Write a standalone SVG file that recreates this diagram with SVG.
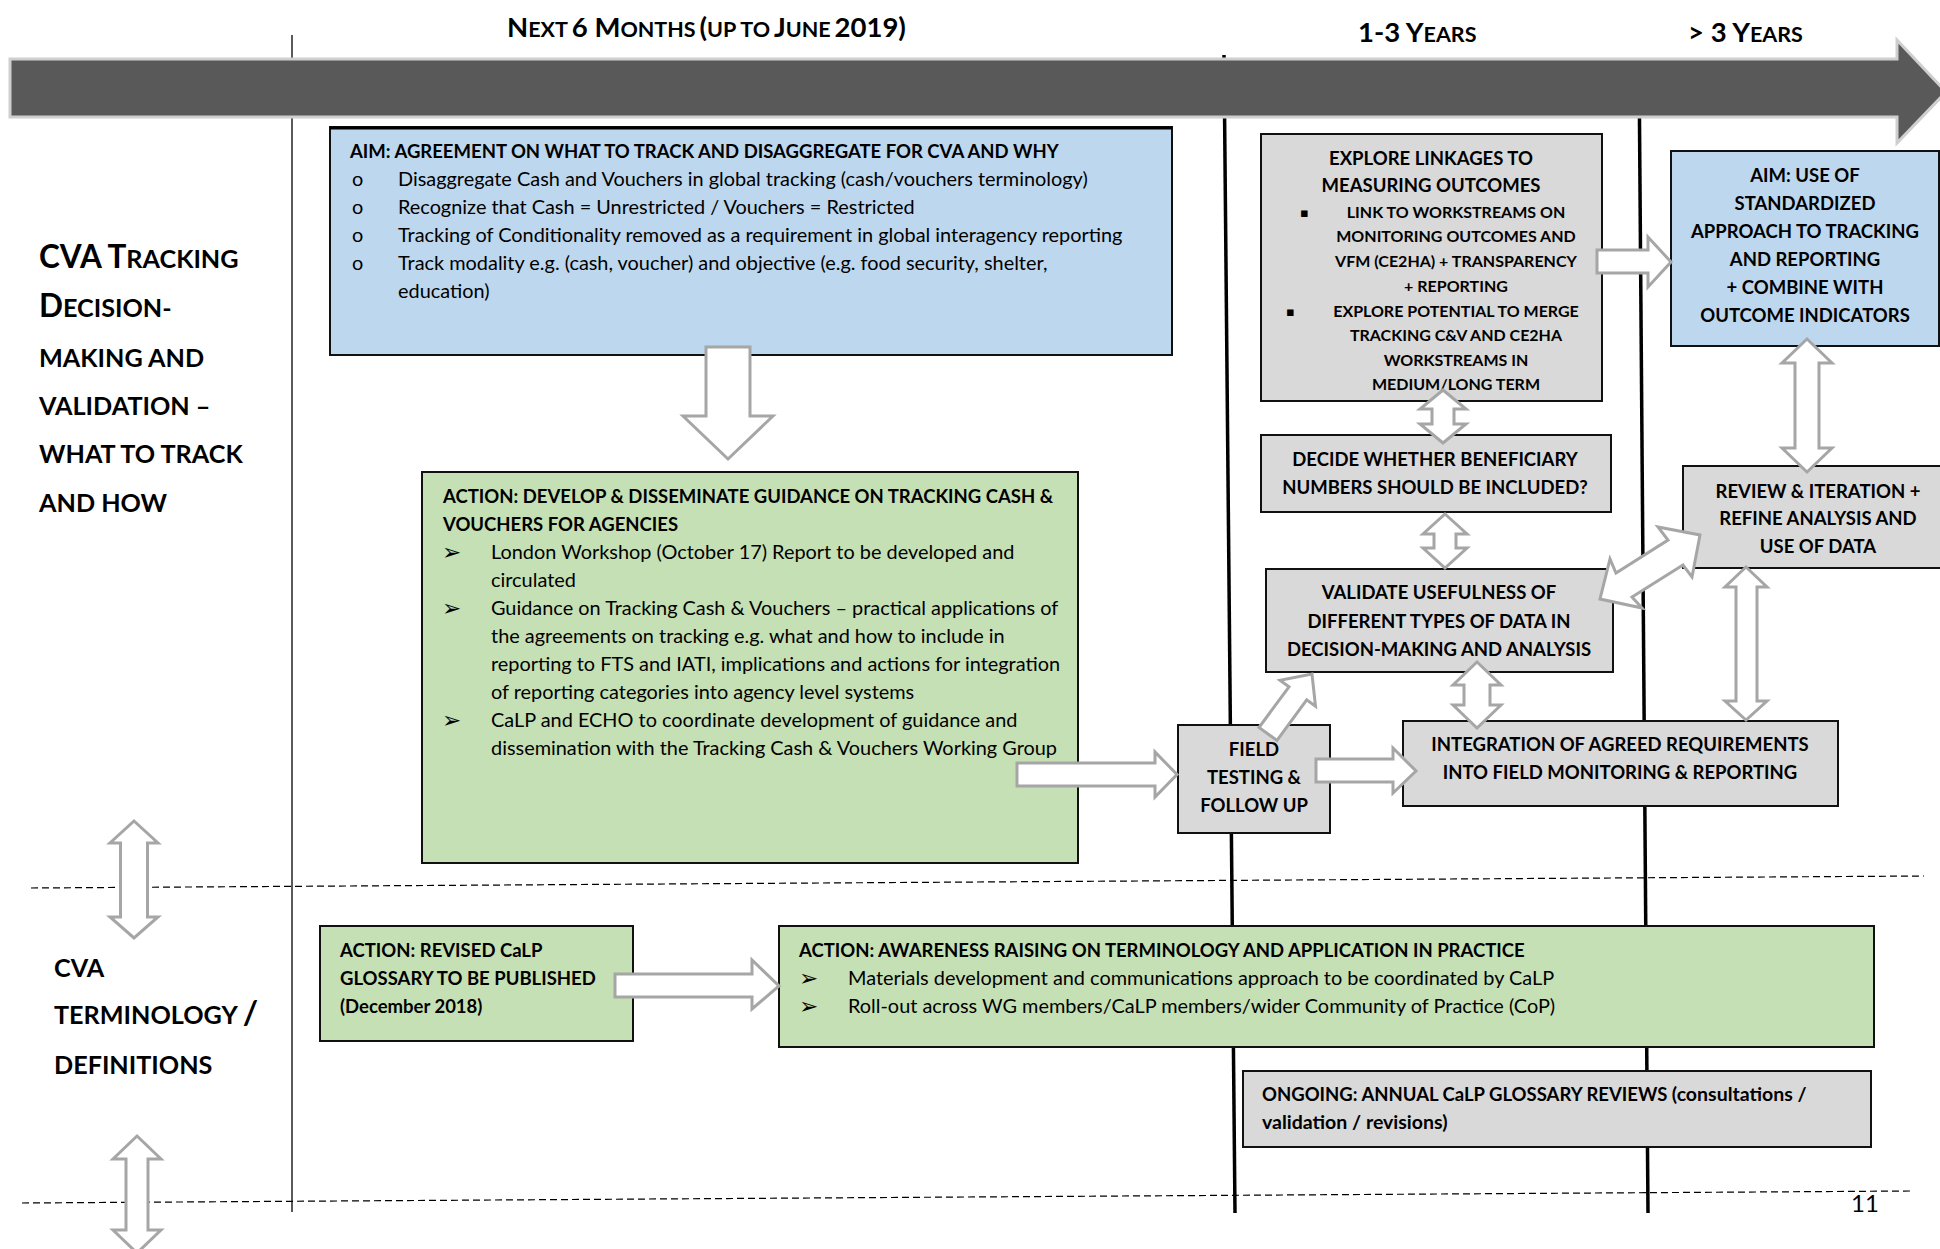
<svg xmlns="http://www.w3.org/2000/svg" width="1940" height="1249" viewBox="0 0 1940 1249">
<style>
text { font-family: Lato, "Liberation Sans", sans-serif; fill: #000; }
.b { font-weight: 700; }
.r { font-weight: 400; }
.t { font-size: 18.5px; }
.tr { font-size: 19.9px; font-weight: 400; }
.ts { font-size: 16px; }
.c { text-anchor: middle; }
.blue { fill: #bdd7ee; stroke: #111; stroke-width: 2; }
.green { fill: #c5e0b4; stroke: #111; stroke-width: 2; }
.gray { fill: #d9d9d9; stroke: #111; stroke-width: 2; }
.blk { fill: #fff; stroke: #a6a6a6; stroke-width: 3; stroke-linejoin: miter; }
.dash { stroke: #000; stroke-width: 1.2; stroke-dasharray: 7 4; fill: none; }
.vline { stroke: #000; stroke-width: 3.5; fill: none; }
.hb { font-size: 27.5px; }
.hs { font-size: 21.5px; }
.lb { font-size: 31.5px; }
.ls { font-size: 25.2px; }
.arr { font-family: "DejaVu Sans", sans-serif; font-size: 23px; }
.sq { font-family: "DejaVu Sans", sans-serif; font-size: 13px; }
</style>

<g id="guides">
  <line class="dash" x1="31" y1="888" x2="1924" y2="876"/>
  <line class="dash" x1="22" y1="1203" x2="1912" y2="1191"/>
  <line x1="292" y1="35" x2="292" y2="1212" stroke="#000" stroke-width="1.3"/>
  <line class="vline" x1="1224" y1="55" x2="1235" y2="1213"/>
  <line class="vline" x1="1639" y1="58" x2="1648" y2="1213"/>
</g>

<g id="timeline">
  <polygon points="10,59 1897,59 1897,40 1946,92 1897,143 1897,117 10,117" fill="#595959" stroke="#cfcfcf" stroke-width="3"/>
  <text class="b" x="507" y="37"><tspan class="hb">N</tspan><tspan class="hs">EXT</tspan> <tspan class="hb">6 M</tspan><tspan class="hs">ONTHS</tspan> <tspan class="hb">(</tspan><tspan class="hs">UP TO</tspan> <tspan class="hb">J</tspan><tspan class="hs">UNE</tspan> <tspan class="hb">2019)</tspan></text>
  <text class="b" x="1358" y="42"><tspan class="hb">1-3 Y</tspan><tspan class="hs">EARS</tspan></text>
  <text class="b" x="1688" y="42"><tspan class="hb">&gt; 3 Y</tspan><tspan class="hs">EARS</tspan></text>
</g>

<g id="label-tracking">
  <text class="b" x="39" y="268"><tspan class="lb">CVA T</tspan><tspan class="ls">RACKING</tspan></text>
  <text class="b" x="39" y="317"><tspan class="lb">D</tspan><tspan class="ls">ECISION-</tspan></text>
  <text class="b ls" x="39" y="367">MAKING AND</text>
  <text class="b ls" x="39" y="415">VALIDATION –</text>
  <text class="b ls" x="39" y="463">WHAT TO TRACK</text>
  <text class="b ls" x="39" y="512">AND HOW</text>
</g>

<g id="label-terminology">
  <text class="b ls" x="54" y="977">CVA</text>
  <text class="b ls" x="54" y="1024">TERMINOLOGY <tspan font-size="33px">/</tspan></text>
  <text class="b ls" x="54" y="1074">DEFINITIONS</text>
</g>

<g id="aim-agreement">
  <rect class="blue" x="330" y="127" width="842" height="228"/>
  <line x1="330" y1="128" x2="1172" y2="128" stroke="#000" stroke-width="3"/>
  <text class="b t" x="350" y="158" font-size="18.7px">AIM: AGREEMENT ON WHAT TO TRACK AND DISAGGREGATE FOR CVA AND WHY</text>
  <g class="tr">
    <text x="352" y="186">o</text>
    <text x="352" y="214">o</text>
    <text x="352" y="242">o</text>
    <text x="352" y="270">o</text>
    <text x="398" y="186">Disaggregate Cash and Vouchers in global tracking (cash/vouchers terminology)</text>
    <text x="398" y="214">Recognize that Cash = Unrestricted / Vouchers = Restricted</text>
    <text x="398" y="242">Tracking of Conditionality removed as a requirement in global interagency reporting</text>
    <text x="398" y="270">Track modality e.g. (cash, voucher) and objective (e.g. food security, shelter,</text>
    <text x="398" y="298">education)</text>
  </g>
</g>

<g id="action-guidance">
  <rect class="green" x="422" y="472" width="656" height="391"/>
  <text class="b t" x="443" y="503">ACTION: DEVELOP &amp; DISSEMINATE GUIDANCE ON TRACKING CASH &amp;</text>
  <text class="b t" x="443" y="531">VOUCHERS FOR AGENCIES</text>
  <text class="arr" x="442" y="560">➢</text>
  <text class="arr" x="442" y="616">➢</text>
  <text class="arr" x="442" y="728">➢</text>
  <g class="tr">
    <text x="491" y="559">London Workshop (October 17) Report to be developed and</text>
    <text x="491" y="587">circulated</text>
    <text x="491" y="615">Guidance on Tracking Cash &amp; Vouchers – practical applications of</text>
    <text x="491" y="643">the agreements on tracking e.g. what and how to include in</text>
    <text x="491" y="671">reporting to FTS and IATI, implications and actions for integration</text>
    <text x="491" y="699">of reporting categories into agency level systems</text>
    <text x="491" y="727">CaLP and ECHO to coordinate development of guidance and</text>
    <text x="491" y="755">dissemination with the Tracking Cash &amp; Vouchers Working Group</text>
  </g>
</g>

<g id="explore-linkages">
  <rect class="gray" x="1261" y="134" width="341" height="267"/>
  <text class="b t c" x="1431" y="165">EXPLORE LINKAGES TO</text>
  <text class="b t c" x="1431" y="192">MEASURING OUTCOMES</text>
  <text class="sq" x="1300" y="217">▪</text>
  <text class="sq" x="1286" y="316">▪</text>
  <g class="b ts c">
    <text x="1456" y="218">LINK TO WORKSTREAMS ON</text>
    <text x="1456" y="242">MONITORING OUTCOMES AND</text>
    <text x="1456" y="267">VFM (CE2HA) + TRANSPARENCY</text>
    <text x="1456" y="292">+ REPORTING</text>
    <text x="1456" y="317">EXPLORE POTENTIAL TO MERGE</text>
    <text x="1456" y="341">TRACKING C&amp;V AND CE2HA</text>
    <text x="1456" y="366">WORKSTREAMS IN</text>
    <text x="1456" y="390">MEDIUM/LONG TERM</text>
  </g>
</g>

<g id="aim-standardized">
  <rect class="blue" x="1671" y="151" width="268" height="195"/>
  <g class="b t c">
    <text x="1805" y="182">AIM: USE OF</text>
    <text x="1805" y="210">STANDARDIZED</text>
    <text x="1805" y="238">APPROACH TO TRACKING</text>
    <text x="1805" y="266">AND REPORTING</text>
    <text x="1805" y="294">+ COMBINE WITH</text>
    <text x="1805" y="322">OUTCOME INDICATORS</text>
  </g>
</g>

<g id="decide-beneficiary">
  <rect class="gray" x="1261" y="435" width="350" height="77"/>
  <text class="b t c" x="1435" y="466">DECIDE WHETHER BENEFICIARY</text>
  <text class="b t c" x="1435" y="494">NUMBERS SHOULD BE INCLUDED?</text>
</g>

<g id="validate-usefulness">
  <rect class="gray" x="1266" y="569" width="347" height="103"/>
  <text class="b t c" x="1439" y="599">VALIDATE USEFULNESS OF</text>
  <text class="b t c" x="1439" y="628">DIFFERENT TYPES OF DATA IN</text>
  <text class="b t c" x="1439" y="656">DECISION-MAKING AND ANALYSIS</text>
</g>

<g id="review-iteration">
  <rect class="gray" x="1683" y="466" width="262" height="102"/>
  <text class="b t c" x="1818" y="498">REVIEW &amp; ITERATION +</text>
  <text class="b t c" x="1818" y="525">REFINE ANALYSIS AND</text>
  <text class="b t c" x="1818" y="553">USE OF DATA</text>
</g>

<g id="field-testing">
  <rect class="gray" x="1178" y="725" width="152" height="108"/>
  <text class="b t c" x="1254" y="756">FIELD</text>
  <text class="b t c" x="1254" y="784">TESTING &amp;</text>
  <text class="b t c" x="1254" y="812">FOLLOW UP</text>
</g>

<g id="integration">
  <rect class="gray" x="1403" y="721" width="435" height="85"/>
  <text class="b t c" x="1620" y="751">INTEGRATION OF AGREED REQUIREMENTS</text>
  <text class="b t c" x="1620" y="779">INTO FIELD MONITORING &amp; REPORTING</text>
</g>

<g id="revised-glossary">
  <rect class="green" x="320" y="926" width="313" height="115"/>
  <text class="b t" x="340" y="957">ACTION: REVISED CaLP</text>
  <text class="b t" x="340" y="985">GLOSSARY TO BE PUBLISHED</text>
  <text class="b t" x="340" y="1013" font-size="19.5px">(December 2018)</text>
</g>

<g id="awareness-raising">
  <rect class="green" x="779" y="926" width="1095" height="121"/>
  <text class="b t" x="799" y="957">ACTION: AWARENESS RAISING ON TERMINOLOGY AND APPLICATION IN PRACTICE</text>
  <text class="arr" x="799" y="986">➢</text>
  <text class="arr" x="799" y="1014">➢</text>
  <text class="tr" x="848" y="985">Materials development and communications approach to be coordinated by CaLP</text>
  <text class="tr" x="848" y="1013">Roll-out across WG members/CaLP members/wider Community of Practice (CoP)</text>
</g>

<g id="ongoing-reviews">
  <rect class="gray" x="1243" y="1071" width="628" height="76"/>
  <text class="b t" x="1262" y="1101">ONGOING: ANNUAL CaLP GLOSSARY REVIEWS <tspan font-size="19.5px">(consultations /</tspan></text>
  <text class="b" x="1262" y="1129" font-size="19.5px">validation / revisions)</text>
</g>

<g id="connectors">
  <polygon class="blk" points="706,347 750,347 750,416 773,416 728,459 683,416 706,416"/>
  <polygon class="blk" points="1597,250 1648,250 1648,237 1671,262 1648,287 1648,273 1597,273"/>
  <polygon class="blk" points="1443,390 1466,409 1454,409 1454,424 1466,424 1443,443 1420,424 1432,424 1432,409 1420,409"/>
  <polygon class="blk" points="1445,514 1467,534 1456,534 1456,548 1467,548 1445,568 1423,548 1434,548 1434,534 1423,534"/>
  <polygon class="blk" points="1477,662 1501,685 1490,685 1490,705 1501,705 1477,728 1453,705 1464,705 1464,685 1453,685"/>
  <polygon class="blk" points="1807,339 1832,363 1819,363 1819,448 1832,448 1807,472 1782,448 1795,448 1795,363 1782,363"/>
  <polygon class="blk" points="1746,567 1767,587 1757,587 1757,701 1767,701 1746,720 1725,701 1736,701 1736,587 1725,587"/>
  <polygon class="blk" points="134,821 158,843 147.5,843 147.5,917 158,917 134,938 110,917 120.5,917 120.5,843 110,843"/>
  <polygon class="blk" points="137,1136 161,1159 148,1159 148,1230 161,1230 137,1253 113,1230 126,1230 126,1159 113,1159"/>
  <polygon class="blk" points="1017,763 1155,763 1155,752 1177,774.5 1155,797 1155,786 1017,786"/>
  <polygon class="blk" points="1316,759 1393,759 1393,748 1416,771 1393,793 1393,782 1316,782"/>
  <polygon class="blk" points="615,974 752,974 752,960 779,986 752,1009 752,997 615,997"/>
  <polygon class="blk" points="1259,727.5 1289,686.8 1280,680.3 1312,674 1315.5,706.3 1306.7,699.8 1277,740.5"/>
  <polygon class="blk" points="1600,599 1610,559 1616,573 1668,540 1658,527 1700,535 1692,577 1683,565 1632,597 1642,608"/>
</g>

<text class="r" x="1851" y="1212" font-size="24px">11</text>
</svg>
